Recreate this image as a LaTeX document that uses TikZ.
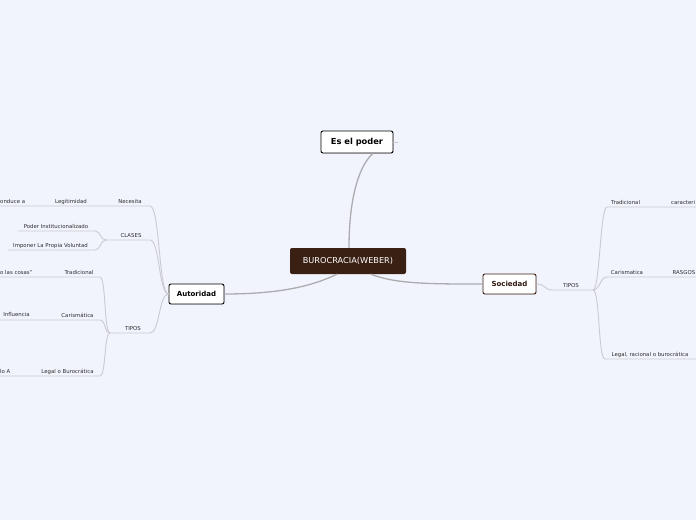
\documentclass[tikz,border=0pt]{standalone}
\usepackage{fontspec}
\setmainfont{DejaVu Sans}
\usetikzlibrary{calc,shadows}
\definecolor{bg}{RGB}{242,244,253}
\definecolor{rootc}{RGB}{58,31,19}
\definecolor{thinc}{RGB}{202,202,208}
\definecolor{mainc}{RGB}{172,172,176}
\definecolor{lab}{RGB}{45,45,45}
\begin{document}
\begin{tikzpicture}[x=1pt,y=-1pt,
 lbl/.style={font=\fontsize{5.4}{6}\selectfont, text=lab, inner sep=0pt, anchor=base},
 lblw/.style={lbl, anchor=base west},
 thinline/.style={draw=thinc, line width=0.9pt},
 mainline/.style={draw=mainc, line width=1.3pt},
 topic/.style={draw=black, fill=white, rounded corners=2pt, line width=0.9pt, inner sep=0pt,
   font=\bfseries\fontsize{7}{8}\selectfont,
   drop shadow={shadow xshift=0.6pt, shadow yshift=-0.6pt, opacity=0.25}},
]
\fill[bg] (0,0) rectangle (696,520);
\useasboundingbox (0,0) rectangle (696,520);

% main nodes
\node[fill=rootc, rounded corners=2pt, minimum width=116pt, minimum height=26pt, inner sep=0pt,
  text=white, font=\fontsize{8.2}{9}\selectfont] (root) at (348,261) {BUROCRACIA(WEBER)};
\node[topic, minimum width=72pt, minimum height=22pt, font=\bfseries\fontsize{8.3}{9}\selectfont] (poder) at (357,142) {Es el poder};
\node[topic, minimum width=55pt, minimum height=20pt] (autoridad) at (196.5,294) {Autoridad};
\node[topic, draw=rootc, text=rootc!80!black, minimum width=53pt, minimum height=20pt] (sociedad) at (509.5,284) {Sociedad};

% main connectors
\draw[mainline] ($(root.north)+(1,0)$) .. controls +(0,-55) and +(-12,10) .. ($(poder.south)+(16,0)$);
\draw[mainline] ($(root.south)+(-11,0)$) .. controls +(-25,12) and +(55,0) .. (autoridad.east);
\draw[mainline] ($(root.south)+(23,0)$) .. controls +(25,10) and +(-50,0) .. (sociedad.west);
\coordinate (stub) at ($(poder.east)+(5,0)$);
\draw[thinline] (poder.east) -- (stub);

% ---------- left: Autoridad ----------
\coordinate (nec1) at (0,206);
\coordinate (nec2) at (150,206);
\coordinate (cla1) at (106,240);
\coordinate (cla2) at (150,240);
\coordinate (tip1) at (110,333);
\coordinate (tip2) at (150,333);
\draw[thinline] (nec1) -- (nec2) .. controls +(10,0) and +(-10,0) .. (autoridad.west);
\draw[thinline] (cla1) -- (cla2) .. controls +(10,0) and +(-10,0) .. (autoridad.west);
\draw[thinline] (tip1) -- (tip2) .. controls +(10,0) and +(-10,0) .. (autoridad.west);

\node[lblw] (conduce) at (0,203) {onduce a};
\node[lbl] (legit) at (71,203) {Legitimidad};
\node[lbl] (necesita) at (130,203) {Necesita};
\node[lbl] (clases) at (131,237) {CLASES};
\node[lbl] (tiposl) at (133,330) {TIPOS};

\coordinate (pin1) at (18,231);
\coordinate (pin2) at (95,231);
\coordinate (imp1) at (8,250);
\coordinate (imp2) at (95,250);
\draw[thinline] (pin1) -- (pin2) .. controls +(6,0) and +(-6,0) .. (cla1);
\draw[thinline] (imp1) -- (imp2) .. controls +(6,0) and +(-6,0) .. (cla1);
\node[lbl] (poderinst) at (56,228) {Poder Institucionalizado};
\node[lbl] (imponer) at (50.5,247) {Imponer La Propia Voluntad};

\coordinate (tra1) at (0,277);
\coordinate (tra2) at (100,277);
\coordinate (car1) at (0,320);
\coordinate (car2) at (100,320);
\coordinate (leg1) at (0,376);
\coordinate (leg2) at (100,376);
\draw[thinline] (tra1) -- (tra2) .. controls +(6,0) and +(-6,0) .. (tip1);
\draw[thinline] (car1) -- (car2) .. controls +(6,0) and +(-6,0) .. (tip1);
\draw[thinline] (leg1) -- (leg2) .. controls +(6,0) and +(-6,0) .. (tip1);
\node[lbl] (tradl) at (79,274) {Tradicional};
\node[lblw] (cosas) at (0,274) {o las cosas"};
\node[lbl] (carl) at (77.5,317) {Carismática};
\node[lbl] (influ) at (16.5,316) {Influencia};
\node[lbl] (legl) at (67.5,373) {Legal o Burocrática};
\node[lblw] (loa) at (0,373) {lo A};

% ---------- right: Sociedad ----------
\coordinate (rtip1) at (553,290);
\coordinate (rtip2) at (593,290);
\draw[thinline] (sociedad.east) .. controls +(9,0) and +(-9,0) .. (rtip1) -- (rtip2);
\node[lbl] (tiposr) at (571,287) {TIPOS};

\coordinate (rtra1) at (607,207);
\coordinate (rtra2) at (696,207);
\coordinate (rcar1) at (607,277);
\coordinate (rcar2) at (696,277);
\coordinate (rleg1) at (605,359);
\coordinate (rleg2) at (696,359);
\draw[thinline] (rtip2) .. controls +(7,0) and +(-7,0) .. (rtra1) -- (rtra2);
\draw[thinline] (rtip2) .. controls +(7,0) and +(-7,0) .. (rcar1) -- (rcar2);
\draw[thinline] (rtip2) .. controls +(7,0) and +(-7,0) .. (rleg1) -- (rleg2);
\node[lbl] (tradr) at (625.5,204) {Tradicional};
\node[lblw] (caract) at (671,204) {caracteri};
\node[lbl] (carr) at (627,274) {Carismatica};
\node[lblw] (rasgos) at (672.5,274) {RASGOS};
\node[lbl] (legr) at (650,356) {Legal, racional o burocrática};
\end{tikzpicture}
\end{document}
